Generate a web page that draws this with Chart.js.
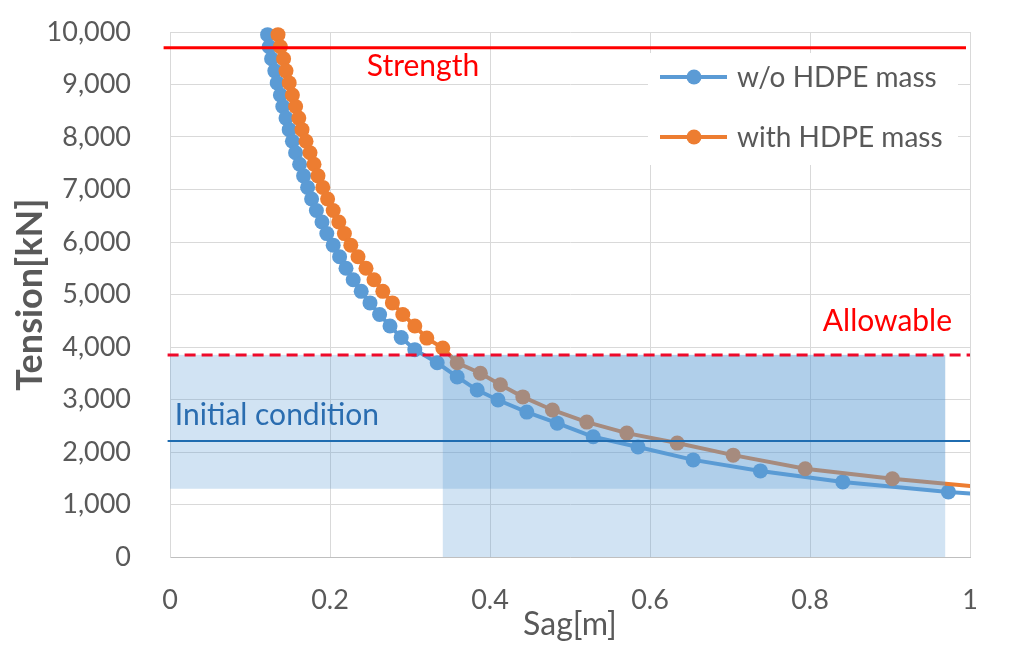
<!DOCTYPE html>
<html><head><meta charset="utf-8">
<script src="https://cdn.jsdelivr.net/npm/chart.js@4.4.1/dist/chart.umd.min.js"></script>
<style>html,body{margin:0;padding:0;background:#fff}#wrap{width:1012px;height:646px}</style>
</head><body><div id="wrap"><canvas id="c" width="1012" height="646"></canvas></div>
<script>
// ---- data ----
const seriesNames = ['w/o HDPE mass', 'with HDPE mass'];
const sagWithout = [0.122,0.124,0.127,0.131,0.134,0.138,0.141,0.145,0.149,0.153,0.157,0.162,0.167,0.172,0.177,0.183,0.190,0.196,0.204,0.212,0.220,0.229,0.239,0.250,0.262,0.275,0.289,0.306,0.334,0.359,0.384,0.410,0.446,0.484,0.529,0.585,0.654,0.738,0.841,0.973,1.10];
const tensionWithout = [9950,9720,9490,9260,9030,8800,8580,8360,8140,7920,7700,7480,7260,7040,6820,6600,6380,6160,5940,5720,5500,5280,5060,4840,4620,4400,4180,3950,3700,3430,3180,2990,2760,2550,2290,2095,1850,1640,1430,1240,1100];
const sagWith = [0.135,0.138,0.142,0.145,0.149,0.153,0.157,0.161,0.165,0.170,0.175,0.180,0.185,0.191,0.197,0.204,0.211,0.218,0.226,0.235,0.245,0.255,0.266,0.278,0.291,0.306,0.321,0.341,0.359,0.388,0.413,0.441,0.478,0.521,0.571,0.634,0.704,0.794,0.903,1.05];
const tensionWith = [9950,9720,9490,9260,9030,8800,8580,8360,8140,7920,7700,7480,7260,7040,6820,6600,6380,6160,5940,5720,5500,5280,5060,4840,4620,4400,4170,3980,3700,3500,3280,3050,2800,2570,2360,2170,1940,1680,1490,1280];
const xTickLabels = ['0','0.2','0.4','0.6','0.8','1'];
const yTickLabels = ['0','1,000','2,000','3,000','4,000','5,000','6,000','7,000','8,000','9,000','10,000'];
const refLineNames = ['Strength', 'Allowable', 'Initial condition'];
const refLineValues = [9700, 3850, 2210];
const bandTension = [1300, 3850];
const bandSag = [0.341, 0.969];

// ---- chart ----
const FONT = 'Lato, "Open Sans", sans-serif';
const GRAY = '#595959';
const colors = ['#5b9bd5', '#ed7d31'];

const toPts = (xs, ys) => xs.map((v, i) => ({x: v, y: ys[i]}));

const overlay = {
  id: 'overlay',
  afterDatasetsDraw(chart) {
    const {ctx, scales: {x, y}} = chart;
    ctx.save();
    // legend box
    ctx.fillStyle = '#ffffff';
    ctx.fillRect(648, 53, 310, 112);
    const legY = [77, 137];
    seriesNames.forEach((name, i) => {
      ctx.strokeStyle = colors[i];
      ctx.lineWidth = 4;
      ctx.beginPath(); ctx.moveTo(660, legY[i]); ctx.lineTo(727, legY[i]); ctx.stroke();
      ctx.fillStyle = colors[i];
      ctx.beginPath(); ctx.arc(694, legY[i], 7.5, 0, Math.PI * 2); ctx.fill();
      ctx.fillStyle = GRAY;
      ctx.font = '28px ' + FONT;
      ctx.textAlign = 'left'; ctx.textBaseline = 'middle';
      ctx.fillText(name, 737, legY[i] + 1);
    });
    // shaded bands
    const x0 = x.getPixelForValue(0), xb0 = x.getPixelForValue(bandSag[0]), xb1 = x.getPixelForValue(bandSag[1]);
    const yt = y.getPixelForValue(bandTension[1]), yb = y.getPixelForValue(bandTension[0]), y0 = y.getPixelForValue(0);
    ctx.fillStyle = 'rgba(91,155,213,0.28)';
    ctx.fillRect(x0, yt, xb1 - x0, yb - yt);
    ctx.fillRect(xb0, yt, xb1 - xb0, y0 - yt);
    // reference lines
    const line = (v, color, w, dash, xa, xe) => {
      ctx.strokeStyle = color; ctx.lineWidth = w; ctx.setLineDash(dash);
      const py = y.getPixelForValue(v);
      ctx.beginPath(); ctx.moveTo(x.getPixelForValue(xa), py); ctx.lineTo(x.getPixelForValue(xe), py); ctx.stroke();
      ctx.setLineDash([]);
    };
    line(refLineValues[0], '#ff0000', 3, [], -0.008, 0.995);
    line(refLineValues[1], '#ee0a2a', 3, [11, 6], -0.003, 1.0);
    line(refLineValues[2], '#1f6cb0', 2, [], -0.003, 1.0);
    // labels
    ctx.font = '30px ' + FONT;
    ctx.textAlign = 'left'; ctx.textBaseline = 'middle';
    ctx.fillStyle = '#ff0000';
    ctx.fillText(refLineNames[0], x.getPixelForValue(0.246), y.getPixelForValue(9352));
    ctx.fillText(refLineNames[1], x.getPixelForValue(0.816), y.getPixelForValue(4495));
    ctx.fillStyle = '#2a6db0';
    ctx.fillText(refLineNames[2], x.getPixelForValue(0.006), y.getPixelForValue(2705));
    ctx.restore();
  }
};

const ds = (i, xs, ys, order) => ({
  label: seriesNames[i],
  data: toPts(xs, ys),
  showLine: true,
  borderColor: colors[i],
  backgroundColor: colors[i],
  borderWidth: 4,
  pointRadius: 7.5,
  pointBorderWidth: 0,
  pointHoverRadius: 7.5,
  order: order,
  clip: {left: 10, top: 20, right: 0, bottom: 10}
});

new Chart(document.getElementById('c'), {
  type: 'scatter',
  data: { datasets: [ds(0, sagWithout, tensionWithout, 1), ds(1, sagWith, tensionWith, 0)] },
  options: {
    responsive: false,
    animation: false,
    devicePixelRatio: 1,
    layout: { padding: { left: 7, top: 32, right: 42, bottom: 0 } },
    plugins: { legend: { display: false }, tooltip: { enabled: false } },
    scales: {
      x: {
        type: 'linear', min: 0, max: 1,
        afterFit: s => { s.height = 89; },
        ticks: { stepSize: 0.2, padding: 27, color: GRAY, font: { family: FONT, size: 27 },
          callback: (v, i) => xTickLabels[i] },
        grid: { color: '#d9d9d9', drawTicks: false },
        border: { color: '#bfbfbf' },
        title: { display: true, text: 'Sag[m]', color: GRAY, font: { family: FONT, size: 32 }, padding: { top: 0, bottom: 2 } }
      },
      y: {
        type: 'linear', min: 0, max: 10000,
        afterFit: s => { s.width = 163; },
        ticks: { stepSize: 1000, padding: 5, color: GRAY, font: { family: FONT, size: 27 },
          callback: (v, i) => yTickLabels[i] },
        grid: { color: '#d9d9d9', drawTicks: true, tickLength: 34, tickColor: 'rgba(0,0,0,0)' },
        border: { color: '#d9d9d9' },
        title: { display: true, text: 'Tension[kN]', color: GRAY, font: { family: FONT, size: 36, weight: 'bold' }, padding: { top: 2, bottom: 4 } }
      }
    }
  },
  plugins: [overlay]
});
</script>
</body></html>
